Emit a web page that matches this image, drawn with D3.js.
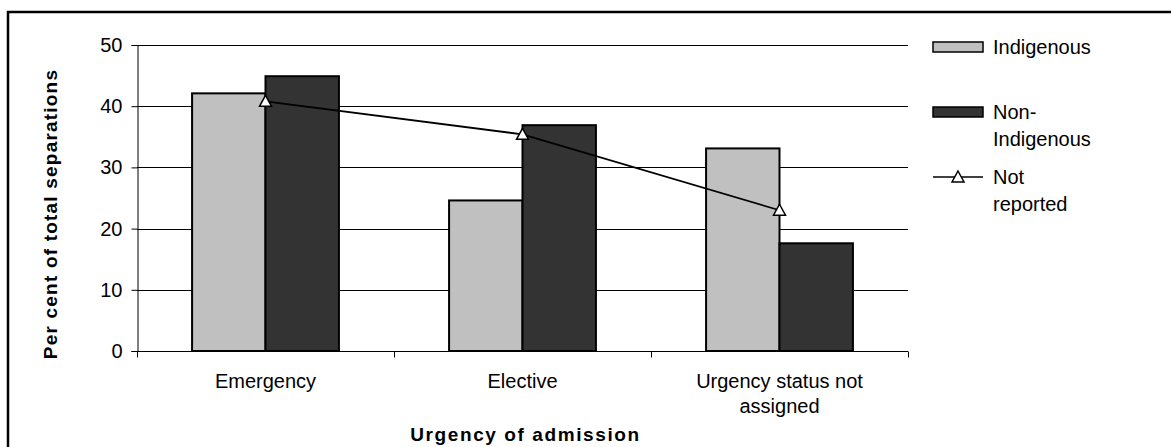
<!DOCTYPE html>
<html>
<head>
<meta charset="utf-8">
<script src="https://cdn.jsdelivr.net/npm/d3@7"></script>
<style>
  html, body { margin: 0; padding: 0; background: #fff; }
  svg { display: block; font-family: "Liberation Sans", Arial, sans-serif; }
</style>
</head>
<body>
<svg id="chart" width="1171" height="447"></svg>
<script>
// ---- data ----
const categories = ["Emergency", "Elective", "Urgency status not assigned"];
const categoryLines = [["Emergency"], ["Elective"], ["Urgency status not", "assigned"]];
const indigenous = [42.1, 24.6, 33.1];
const nonIndigenous = [44.9, 36.9, 17.6];
const notReported = [40.8, 35.4, 23.0];
const yTicks = [0, 10, 20, 30, 40, 50];
const seriesNames = ["Indigenous", "Non-Indigenous", "Not reported"];
const legendLines = [["Indigenous"], ["Non-", "Indigenous"], ["Not", "reported"]];

// ---- layout ----
const svg = d3.select("#chart");
const plot = { left: 137, right: 908, top: 45, bottom: 351 };

// outer border (extends past the bottom/right edges)
svg.append("rect")
  .attr("x", 8).attr("y", 12)
  .attr("width", 1200).attr("height", 500)
  .attr("fill", "none").attr("stroke", "#000").attr("stroke-width", 2.5);

const x = d3.scaleBand().domain(categories).range([plot.left, plot.right]);
const y = d3.scaleLinear().domain([0, 50]).range([plot.bottom, plot.top]);

// bar geometry: gap width 150%
const barW = x.bandwidth() / 3.5;

// gridlines
svg.append("g").selectAll("line").data(yTicks.filter(d => d > 0)).join("line")
  .attr("x1", plot.left).attr("x2", plot.right)
  .attr("y1", d => Math.round(y(d)) + 0.5).attr("y2", d => Math.round(y(d)) + 0.5)
  .attr("stroke", "#000").attr("stroke-width", 1);

// y axis
const yAxis = d3.axisLeft(y).tickValues(yTicks).tickSize(6).tickPadding(9).tickFormat(d3.format("d"));
const gy = svg.append("g").attr("transform", `translate(${plot.left + 0.5},0)`).call(yAxis);
gy.select(".domain").attr("stroke", "#000");
gy.selectAll(".tick text").attr("font-size", 20).attr("fill", "#000")
  .attr("font-family", "'Liberation Sans', Arial, sans-serif");

// x axis (ticks at band edges)
const gx = svg.append("g").attr("transform", `translate(0,${plot.bottom + 0.5})`);
gx.append("line").attr("x1", plot.left).attr("x2", plot.right).attr("stroke", "#000");
const edges = categories.map(c => x(c)).concat([plot.right]);
gx.selectAll("line.tk").data(edges).join("line").attr("class", "tk")
  .attr("x1", d => Math.round(d) + 0.5).attr("x2", d => Math.round(d) + 0.5)
  .attr("y1", 0).attr("y2", 6).attr("stroke", "#000");

// category labels
categories.forEach((c, i) => {
  const t = svg.append("text")
    .attr("x", x(c) + x.bandwidth() / 2)
    .attr("y", 388)
    .attr("text-anchor", "middle")
    .attr("font-size", 20)
    .attr("fill", "#000");
  categoryLines[i].forEach((ln, j) => {
    t.append("tspan").attr("x", x(c) + x.bandwidth() / 2).attr("dy", j === 0 ? 0 : 25).text(ln);
  });
});

// bars
const barG = svg.append("g");
barG.selectAll("rect.ind").data(indigenous).join("rect").attr("class", "ind")
  .attr("x", (d, i) => x(categories[i]) + x.bandwidth() / 2 - barW)
  .attr("y", d => y(d)).attr("width", barW).attr("height", d => y(0) - y(d))
  .attr("fill", "#C0C0C0").attr("stroke", "#000").attr("stroke-width", 2);
barG.selectAll("rect.non").data(nonIndigenous).join("rect").attr("class", "non")
  .attr("x", (d, i) => x(categories[i]) + x.bandwidth() / 2)
  .attr("y", d => y(d)).attr("width", barW).attr("height", d => y(0) - y(d))
  .attr("fill", "#333333").attr("stroke", "#000").attr("stroke-width", 2);

// line series
const line = d3.line().x((d, i) => x(categories[i]) + x.bandwidth() / 2).y(d => y(d));
svg.append("path").datum(notReported).attr("d", line)
  .attr("fill", "none").attr("stroke", "#000").attr("stroke-width", 1.8);
const tri = "M0,-6L6,5L-6,5Z";
svg.append("g").selectAll("path").data(notReported).join("path")
  .attr("transform", (d, i) => `translate(${x(categories[i]) + x.bandwidth() / 2},${y(d)})`)
  .attr("d", tri).attr("fill", "#fff").attr("stroke", "#000").attr("stroke-width", 1.5);

// axis titles
svg.append("text")
  .attr("x", (plot.left + plot.right) / 2 + 3).attr("y", 441)
  .attr("text-anchor", "middle").attr("font-size", 19).attr("font-weight", "bold")
  .attr("letter-spacing", 1.6)
  .text("Urgency of admission");
svg.append("text")
  .attr("transform", "translate(57,214) rotate(-90)")
  .attr("text-anchor", "middle").attr("font-size", 19).attr("font-weight", "bold")
  .attr("letter-spacing", 1.2)
  .text("Per cent of total separations");

// legend
const legY = [47, 112, 177];
const lg = svg.append("g");
[0, 1].forEach(i => {
  lg.append("rect").attr("x", 933).attr("y", legY[i] - 5).attr("width", 50).attr("height", 10)
    .attr("fill", i === 0 ? "#C0C0C0" : "#333333").attr("stroke", "#000").attr("stroke-width", 1.5);
});
lg.append("line").attr("x1", 933).attr("x2", 983).attr("y1", legY[2]).attr("y2", legY[2])
  .attr("stroke", "#000").attr("stroke-width", 1.5);
lg.append("path").attr("transform", `translate(958,${legY[2]})`).attr("d", tri)
  .attr("fill", "#fff").attr("stroke", "#000").attr("stroke-width", 1.5);
legendLines.forEach((lines, i) => {
  const t = lg.append("text").attr("x", 993).attr("y", legY[i] + 7).attr("font-size", 20).attr("fill", "#000");
  lines.forEach((ln, j) => t.append("tspan").attr("x", 993).attr("dy", j === 0 ? 0 : 27).text(ln));
});
</script>
</body>
</html>
